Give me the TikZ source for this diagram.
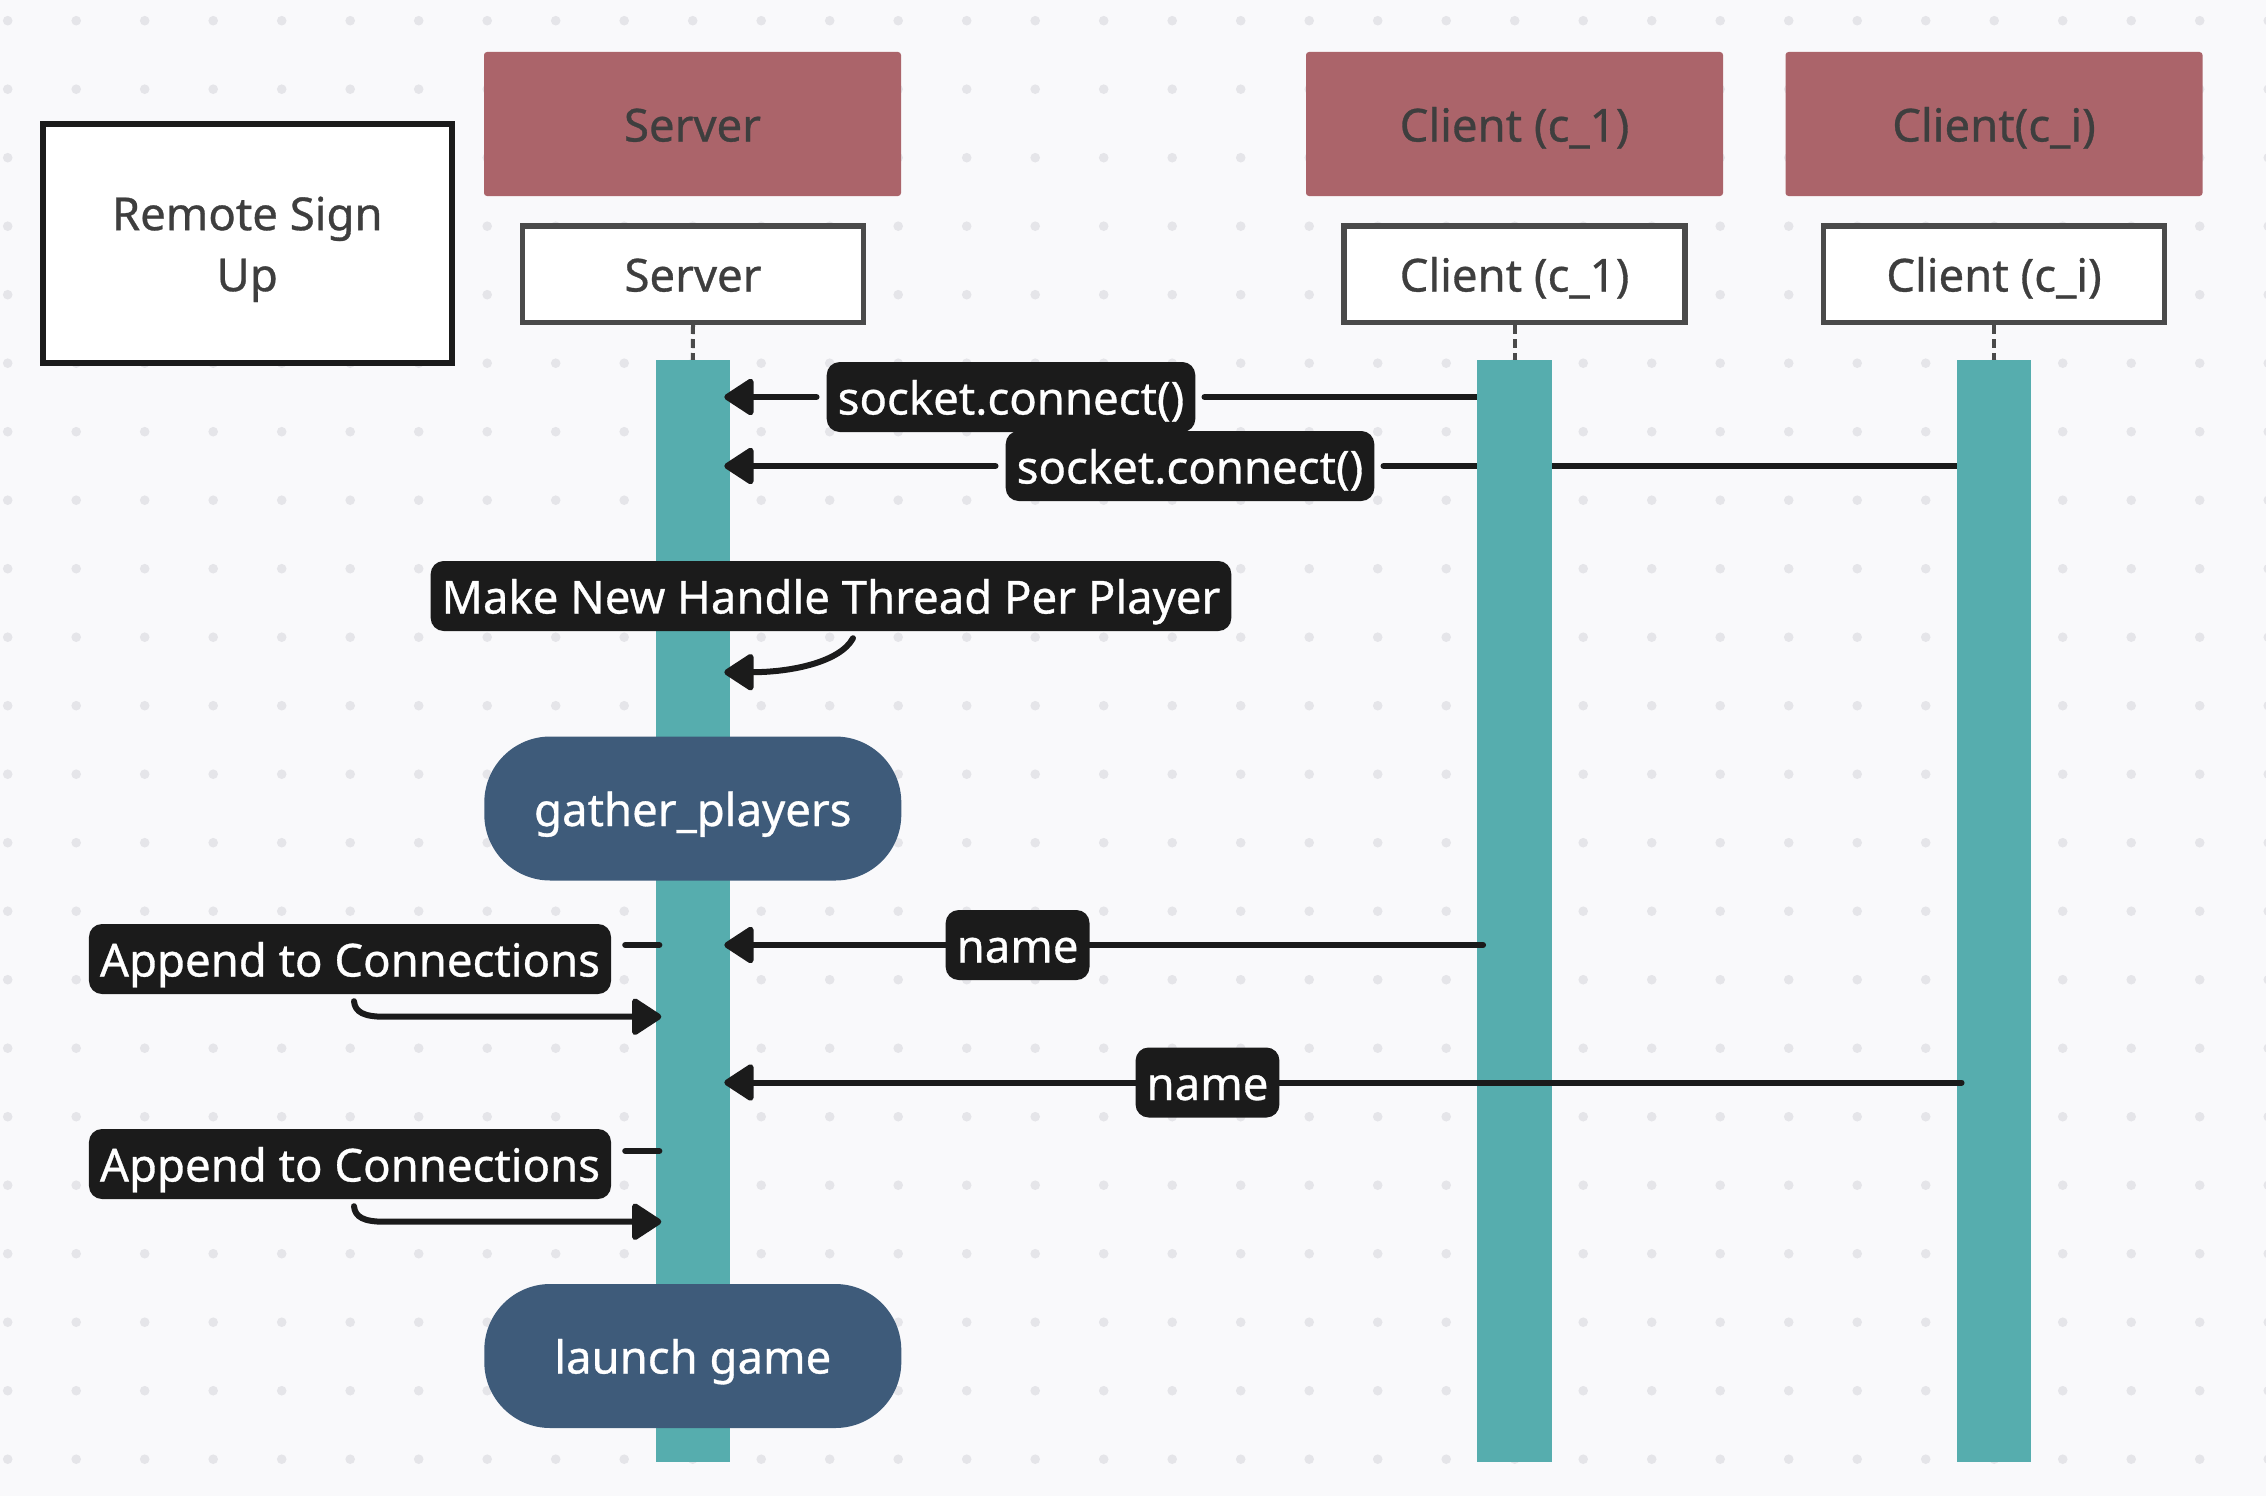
\documentclass[tikz,border=0pt]{standalone}
\usepackage{fontspec}
\setmainfont{Noto Sans}
\newfontfamily\diagfont{Noto Sans}[FakeBold=0.7]
\usetikzlibrary{arrows.meta,calc}
\definecolor{bgc}{HTML}{F9F9FB}
\definecolor{dotc}{HTML}{E5E5E9}
\definecolor{hdr}{HTML}{AB646A}
\definecolor{hdrtext}{HTML}{3E3E3E}
\definecolor{boxline}{HTML}{4A4A4A}
\definecolor{ink}{HTML}{1B1B1B}
\definecolor{tealbar}{HTML}{56ADAE}
\definecolor{pillc}{HTML}{3E5B7A}
\pgfdeclarelayer{dotlayer}
\pgfdeclarelayer{lower}
\pgfsetlayers{dotlayer,lower,main}
\tikzset{
  txt/.style={font=\diagfont\fontsize{45.5}{61}\selectfont},
  line1/.style={txt, text height=35pt, text depth=0pt},
  header/.style={line1, fill=hdr, text=hdrtext, minimum width=417pt, minimum height=144pt, rounded corners=3pt, inner sep=0pt},
  actor/.style={line1, draw=boxline, line width=5.5pt, fill=white, text=hdrtext, minimum width=341pt, minimum height=96.5pt, inner sep=0pt},
  lifebar/.style={fill=tealbar, minimum width=74.5pt, minimum height=1101.5pt, inner sep=0pt},
  msglabel/.style={line1, fill=ink, text=white, rounded corners=13pt, minimum height=70pt, inner xsep=11pt, inner ysep=0pt},
  pillbox/.style={line1, fill=pillc, text=white, rounded corners=66pt, minimum width=417pt, minimum height=144pt, inner sep=0pt},
  msg/.style={draw=ink, line width=6pt, line cap=round},
  head/.style={-{Triangle[length=32pt,width=40pt,round]}},
  lifeline/.style={draw=boxline, line width=4pt, dash pattern=on 9pt off 5pt},
}
\begin{document}
\begin{tikzpicture}[x=1pt,y=-1pt]
\useasboundingbox (0,0) rectangle (2266,1496);
\begin{pgfonlayer}{dotlayer}
\fill[bgc] (0,0) rectangle (2266,1496);
\foreach \i in {0,...,33}{
  \foreach \j in {0,...,21}{
    \fill[dotc] (7.7+68.5*\i, 20.7+68.5*\j) circle (4.8pt);
  }
}
\end{pgfonlayer}

% Remote Sign Up box
\node[draw=ink, line width=6pt, fill=white, minimum width=409.5pt, minimum height=238.7pt, inner sep=0pt] (remote) at (247.25,243.35) {};
\node[txt, text=hdrtext, align=center, inner sep=0pt] (remotetext) at ($(remote.center)+(0,6)$) {Remote Sign\\Up};

% headers
\node[header] (hs) at (692.5,124) {Server};
\node[header] (hc1) at (1514.5,124) {Client (c\_1)};
\node[header] (hci) at (1994,124) {Client(c\_i)};

% actor boxes
\node[actor] (as) at (693,274) {Server};
\node[actor] (ac1) at (1514.5,274) {Client (c\_1)};
\node[actor] (aci) at (1994,274) {Client (c\_i)};

% activation bars
\node[lifebar] (sbar) at (692.8,910.75) {};
\node[lifebar] (c1bar) at (1514.5,910.75) {};
\node[lifebar] (cibar) at (1994,910.75) {};

\draw[lifeline] (as.south) -- (sbar.north);
\draw[lifeline] (ac1.south) -- (c1bar.north);
\draw[lifeline] (aci.south) -- (cibar.north);

% socket.connect messages
\node[msglabel] (l1) at (1011,397) {socket.connect()};
\node[msglabel] (l2) at (1190,466) {socket.connect()};
\begin{pgfonlayer}{lower}
\draw[msg] (c1bar.west |- l1.east) -- ($(l1.east)+(9,0)$);
\draw[msg] (cibar.west |- l2.east) -- ($(l2.east)+(9,0)$);
\end{pgfonlayer}
\draw[msg,head] ($(l1.west)+(-10,0)$) -- ($(sbar.east |- l1.west)+(-6,0)$);
\draw[msg,head] ($(l2.west)+(-10,0)$) -- ($(sbar.east |- l2.west)+(-6,0)$);

% Make New Handle Thread Per Player
\node[msglabel] (l3) at (831,596) {Make New Handle Thread Per Player};
\draw[msg,head] ($(l3.south)+(22,7)$) .. controls ($(l3.south)+(9,31)$) and ($(l3.south)+(-40,41)$) .. ($(sbar.east |- l3.south)+(-6,41)$);

% gather_players
\node[pillbox] (gp) at (692.8,808.5) {gather\_players};

% name messages
\node[msglabel] (l4) at (1017.6,945) {name};
\node[msglabel] (l5) at (1207.5,1082.5) {name};
\draw[msg] ($(c1bar.west |- l4.east)+(6,0)$) -- (l4.east);
\draw[msg,head] (l4.west) -- ($(sbar.east |- l4.west)+(-6,0)$);
\draw[msg] ($(cibar.west |- l5.east)+(5,0)$) -- (l5.east);
\draw[msg,head] (l5.west) -- ($(sbar.east |- l5.west)+(-6,0)$);

% self messages
\node[msglabel] (a1) at (350,959) {Append to Connections};
\node[msglabel] (a2) at (350,1164) {Append to Connections};
\draw[msg] ($(sbar.west |- a1.west)+(4,-14)$) -- ($(a1.east)+(14,-14)$);
\draw[msg,head] ($(a1.south)+(4,7)$) .. controls ($(a1.south)+(5,18)$) and ($(a1.south)+(14,22.5)$) .. ($(a1.south)+(34,22.5)$) -- ($(sbar.west |- a1.south)+(6,22.5)$);
\draw[msg] ($(sbar.west |- a2.west)+(4,-13)$) -- ($(a2.east)+(14,-13)$);
\draw[msg,head] ($(a2.south)+(4,7)$) .. controls ($(a2.south)+(5,18)$) and ($(a2.south)+(14,22.5)$) .. ($(a2.south)+(34,22.5)$) -- ($(sbar.west |- a2.south)+(6,22.5)$);

% launch game
\node[pillbox] (lg) at (692.8,1356) {launch game};
\end{tikzpicture}
\end{document}
